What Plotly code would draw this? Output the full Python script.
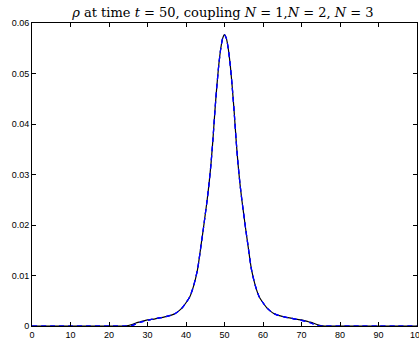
import plotly.graph_objects as go

# Sample positions along the domain
x = [0, 5, 10, 15, 20, 24, 25, 26, 27, 28, 29, 30, 31, 32, 33, 34, 35, 36, 37,
     38, 39, 40, 41, 42, 43, 44, 44.5, 45, 45.5, 46, 46.5, 47, 47.5, 48, 48.5,
     49, 49.5, 50, 50.5, 51, 51.5, 52, 52.5, 53, 53.5, 54, 54.5, 55, 55.5, 56,
     57, 58, 59, 60, 61, 62, 63, 64, 65, 66, 67, 68, 69, 70, 71, 72, 73, 74,
     75, 76, 80, 85, 90, 95, 100]

# Density rho at t = 50 for coupling N = 1
rho_n1 = [0, 0, 0, 0, 0, 0, 0.0001, 0.0003, 0.0006, 0.0008, 0.0010, 0.0012, 0.0013,
          0.0014, 0.0016, 0.0017, 0.0019, 0.0021, 0.0024, 0.0029, 0.0036, 0.0046,
          0.0058, 0.0080, 0.0112, 0.0165, 0.0192, 0.0221, 0.0250, 0.0283, 0.0322,
          0.0370, 0.0425, 0.0474, 0.0516, 0.0548, 0.0569, 0.0577, 0.0569, 0.0548,
          0.0516, 0.0474, 0.0425, 0.0370, 0.0322, 0.0283, 0.0250, 0.0221, 0.0192,
          0.0165, 0.0112, 0.0080, 0.0058, 0.0046, 0.0036, 0.0029, 0.0024, 0.0021,
          0.0019, 0.0017, 0.0016, 0.0014, 0.0013, 0.0012, 0.0010, 0.0008, 0.0006,
          0.0003, 0.0001, 0, 0, 0, 0, 0, 0]

# Density rho at t = 50 for coupling N = 2
rho_n2 = [0, 0, 0, 0, 0, 0, 0, 0.0001, 0.0004, 0.0007, 0.0009, 0.0011, 0.0013,
          0.0014, 0.0016, 0.0017, 0.0019, 0.0021, 0.0024, 0.0029, 0.0036, 0.0046,
          0.0058, 0.0080, 0.0112, 0.0165, 0.0192, 0.0221, 0.0250, 0.0283, 0.0322,
          0.0370, 0.0425, 0.0474, 0.0516, 0.0548, 0.0569, 0.0576, 0.0569, 0.0548,
          0.0516, 0.0474, 0.0425, 0.0370, 0.0322, 0.0283, 0.0250, 0.0221, 0.0192,
          0.0165, 0.0112, 0.0080, 0.0058, 0.0046, 0.0036, 0.0029, 0.0024, 0.0021,
          0.0019, 0.0017, 0.0016, 0.0014, 0.0013, 0.0011, 0.0009, 0.0007, 0.0004,
          0.0001, 0, 0, 0, 0, 0, 0, 0]

# Density rho at t = 50 for coupling N = 3
rho_n3 = [0, 0, 0, 0, 0, 0, 0, 0.0001, 0.0004, 0.0007, 0.0009, 0.0011, 0.0013,
          0.0014, 0.0016, 0.0017, 0.0019, 0.0021, 0.0024, 0.0029, 0.0036, 0.0046,
          0.0058, 0.0080, 0.0112, 0.0165, 0.0192, 0.0221, 0.0250, 0.0283, 0.0322,
          0.0370, 0.0425, 0.0474, 0.0516, 0.0548, 0.0569, 0.0576, 0.0569, 0.0548,
          0.0516, 0.0474, 0.0425, 0.0370, 0.0322, 0.0283, 0.0250, 0.0221, 0.0192,
          0.0165, 0.0112, 0.0080, 0.0058, 0.0046, 0.0036, 0.0029, 0.0024, 0.0021,
          0.0019, 0.0017, 0.0016, 0.0014, 0.0013, 0.0011, 0.0009, 0.0007, 0.0004,
          0.0001, 0, 0, 0, 0, 0, 0, 0]

x_ticks = [0, 10, 20, 30, 40, 50, 60, 70, 80, 90]
x_last_tick = 100
y_ticks = [0, 0.01, 0.02, 0.03, 0.04, 0.05, 0.06]
y_tick_labels = ["0", "0.01", "0.02", "0.03", "0.04", "0.05", "0.06"]

tick_font = dict(family="Liberation Sans, Arial, sans-serif", size=9, color="black")

fig = go.Figure()
fig.add_trace(go.Scatter(x=x, y=rho_n1, mode="lines", name="N = 1",
                         line=dict(color="black", width=1.2, shape="spline", smoothing=0.6)))
fig.add_trace(go.Scatter(x=x, y=rho_n2, mode="lines", name="N = 2",
                         line=dict(color="#0000ff", width=1.2, dash="5px,4px",
                                   shape="spline", smoothing=0.6)))
fig.add_trace(go.Scatter(x=x, y=rho_n3, mode="lines", name="N = 3",
                         line=dict(color="#0000ff", width=1.2, dash="5px,4px",
                                   shape="spline", smoothing=0.6)))

axis_style = dict(
    showgrid=False, zeroline=False, showline=True, linecolor="black", linewidth=1,
    mirror="ticks", ticks="inside", ticklen=4, tickwidth=1, tickcolor="black",
    tickfont=tick_font,
)

fig.update_xaxes(range=[0, 100], tickvals=x_ticks + [x_last_tick],
                 ticktext=[str(v) for v in x_ticks] + [""], **axis_style)
fig.update_yaxes(range=[0, 0.06], tickvals=y_ticks, ticktext=y_tick_labels, **axis_style)

# Label of the last x tick sits at the right edge of the page
fig.add_annotation(x=x_last_tick, y=0, xref="x", yref="paper", text=str(x_last_tick),
                   showarrow=False, xanchor="center", yanchor="top", yshift=-2,
                   font=tick_font)

fig.update_layout(
    width=419, height=346,
    margin=dict(l=32, r=2, t=23, b=20),
    paper_bgcolor="white", plot_bgcolor="white",
    showlegend=False,
    title=dict(
        text="<i>ρ</i> at time <i>t</i> = 50, coupling <i>N</i> = 1,<i>N</i> = 2, <i>N</i> = 3",
        x=0.532, xanchor="center", y=0.965, yanchor="middle",
        font=dict(family="DejaVu Serif", size=13, color="black"),
    ),
)

fig.write_html("out.html")
